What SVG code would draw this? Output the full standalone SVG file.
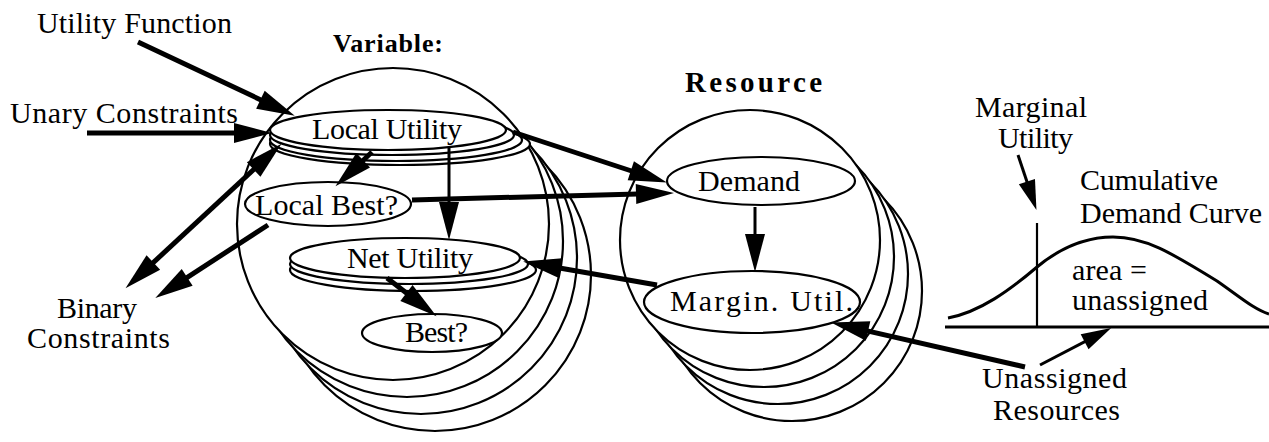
<svg xmlns="http://www.w3.org/2000/svg" width="1269" height="442" viewBox="0 0 1269 442">
  <style>
    .lbl { font-family: "Liberation Serif", "Times New Roman", serif; font-size: 30px; fill: #000; }
    .ttl { font-family: "Liberation Serif", "Times New Roman", serif; font-size: 29px; font-weight: bold; fill: #000; }
    .ttl.narrow { font-size: 26px; }
    .ring { fill: #fff; stroke: #000; stroke-width: 2.2; }
    .oval { fill: #fff; stroke: #000; stroke-width: 2.2; }
    .thick { fill: none; stroke: #000; stroke-width: 5; }
    .thin { fill: none; stroke: #000; stroke-width: 3; }
    .plot { fill: none; stroke: #000; stroke-width: 3; }
  </style>
  <defs>
    <marker id="head" markerUnits="userSpaceOnUse" markerWidth="38" markerHeight="20" refX="20" refY="10" orient="auto-start-reverse" overflow="visible">
      <path d="M0,0 L38,10 L0,20 Z" fill="#000"/>
    </marker>
    <marker id="headS" markerUnits="userSpaceOnUse" markerWidth="30" markerHeight="17" refX="16" refY="8.5" orient="auto" overflow="visible">
      <path d="M0,0 L30,8.5 L0,17 Z" fill="#000"/>
    </marker>
  </defs>

  <!-- Variables: stack of agent circles, back to front -->
  <g id="variables">
    <circle class="ring" cx="435" cy="275" r="156"/>
    <circle class="ring" cx="421" cy="258" r="156"/>
    <circle class="ring" cx="407" cy="241" r="156"/>
    <circle class="ring" cx="393" cy="224" r="156"/>
    <text class="ttl narrow" x="333" y="52" textLength="110">Variable:</text>
  </g>

  <!-- Resources: stack of resource circles, back to front -->
  <g id="resources">
    <circle class="ring" cx="792" cy="291" r="130"/>
    <circle class="ring" cx="778" cy="274" r="130"/>
    <circle class="ring" cx="764" cy="257" r="130"/>
    <circle class="ring" cx="750" cy="240" r="130"/>
    <text class="ttl" x="685" y="92" textLength="137">Resource</text>
  </g>

  <g id="local-utility">
    <ellipse class="oval" cx="400" cy="144" rx="130" ry="21"/>
    <ellipse class="oval" cx="396" cy="140" rx="126" ry="21"/>
    <ellipse class="oval" cx="392" cy="135" rx="122" ry="20"/>
    <ellipse class="oval" cx="388" cy="130" rx="118" ry="20"/>
    <text class="lbl" x="312" y="139" textLength="150">Local Utility</text>
  </g>

  <g id="local-best">
    <ellipse class="oval" cx="328" cy="204" rx="83" ry="22"/>
    <text class="lbl" x="255" y="215" textLength="143">Local Best?</text>
  </g>

  <g id="net-utility">
    <ellipse class="oval" cx="413" cy="270" rx="123" ry="21"/>
    <ellipse class="oval" cx="409" cy="264" rx="119" ry="20"/>
    <ellipse class="oval" cx="405" cy="258" rx="115" ry="20"/>
    <text class="lbl" x="347" y="268" textLength="126">Net Utility</text>
  </g>

  <g id="best">
    <ellipse class="oval" cx="432" cy="333" rx="70" ry="19"/>
    <text class="lbl" x="405" y="342" textLength="63">Best?</text>
  </g>

  <g id="demand">
    <ellipse class="oval" cx="761" cy="181" rx="94" ry="24"/>
    <text class="lbl" x="698" y="191" textLength="102">Demand</text>
  </g>

  <g id="margin-util">
    <ellipse class="oval" cx="752" cy="302" rx="108" ry="31"/>
    <text class="lbl" x="670" y="311" textLength="183">Margin. Util.</text>
  </g>

  <g id="utility-function">
    <text class="lbl" x="37" y="33" textLength="195">Utility Function</text>
  </g>

  <g id="unary-constraints">
    <text class="lbl" x="10" y="123" textLength="228">Unary Constraints</text>
  </g>

  <g id="binary-constraints">
    <text class="lbl" x="57" y="318" textLength="80">Binary</text>
    <text class="lbl" x="27" y="348" textLength="143">Constraints</text>
  </g>

  <!-- Cumulative demand curve plot -->
  <g id="demand-curve">
    <line class="plot" x1="945" y1="327" x2="1269" y2="327"/>
    <line x1="1037" y1="223" x2="1037" y2="327" stroke="#000" stroke-width="2.2"/>
    <path class="plot" d="M948,318 C980,312 1010,290 1037,267 C1060,248 1085,237 1113,237 C1145,237 1170,252 1217,281 C1240,297 1255,310 1269,314"/>
    <text class="lbl" x="975" y="117" textLength="112">Marginal</text>
    <text class="lbl" x="998" y="148" textLength="75">Utility</text>
    <text class="lbl" x="1080" y="190" textLength="138">Cumulative</text>
    <text class="lbl" x="1080" y="223" textLength="182">Demand Curve</text>
    <text class="lbl" x="1072" y="280" textLength="75">area =</text>
    <text class="lbl" x="1072" y="310" textLength="136">unassigned</text>
  </g>

  <g id="unassigned-resources">
    <text class="lbl" x="982" y="388" textLength="145">Unassigned</text>
    <text class="lbl" x="993" y="420" textLength="127">Resources</text>
  </g>

  <!-- Connectors -->
  <g id="connectors">
    <!-- utility function -> local utility -->
    <line class="thick" x1="138" y1="42" x2="278.5" y2="108.2" marker-end="url(#head)"/>
    <!-- unary constraints -> local utility -->
    <line class="thick" x1="87" y1="133" x2="254" y2="133" marker-end="url(#head)"/>
    <!-- binary constraints <-> local utility -->
    <line class="thick" x1="138.7" y1="276.1" x2="268.3" y2="155.9" marker-start="url(#head)" marker-end="url(#head)"/>
    <!-- local best -> binary constraints -->
    <line class="thick" x1="268" y1="225" x2="170.4" y2="288.3" marker-end="url(#head)"/>
    <!-- local utility -> local best -->
    <line class="thick" x1="372" y1="152" x2="348.6" y2="174" marker-end="url(#head)"/>
    <!-- local utility -> net utility -->
    <line class="thin" x1="449" y1="147" x2="449" y2="222" marker-end="url(#head)"/>
    <!-- local best -> demand -->
    <line class="thick" x1="412" y1="200" x2="656" y2="193.4" marker-end="url(#head)"/>
    <!-- local utility -> demand -->
    <line class="thick" x1="513" y1="132" x2="649.8" y2="177" marker-end="url(#head)"/>
    <!-- demand -> margin. util. -->
    <line class="thin" x1="755" y1="207" x2="755" y2="254" marker-end="url(#head)"/>
    <!-- margin. util. -> net utility -->
    <line class="thick" x1="657" y1="285" x2="540.8" y2="264.7" marker-end="url(#head)"/>
    <!-- net utility -> best -->
    <line class="thick" x1="387" y1="278" x2="422.3" y2="305.2" marker-end="url(#head)"/>
    <!-- unassigned resources -> margin. util. -->
    <line class="thick" x1="1025" y1="367" x2="848.6" y2="326.6" marker-end="url(#head)"/>
    <!-- marginal utility label -> marker line -->
    <line class="thin" x1="1018" y1="155" x2="1032" y2="196.8" marker-end="url(#headS)"/>
    <!-- unassigned resources label -> axis -->
    <line class="thin" x1="1040" y1="365" x2="1098.8" y2="334.4" marker-end="url(#headS)"/>
  </g>
</svg>
